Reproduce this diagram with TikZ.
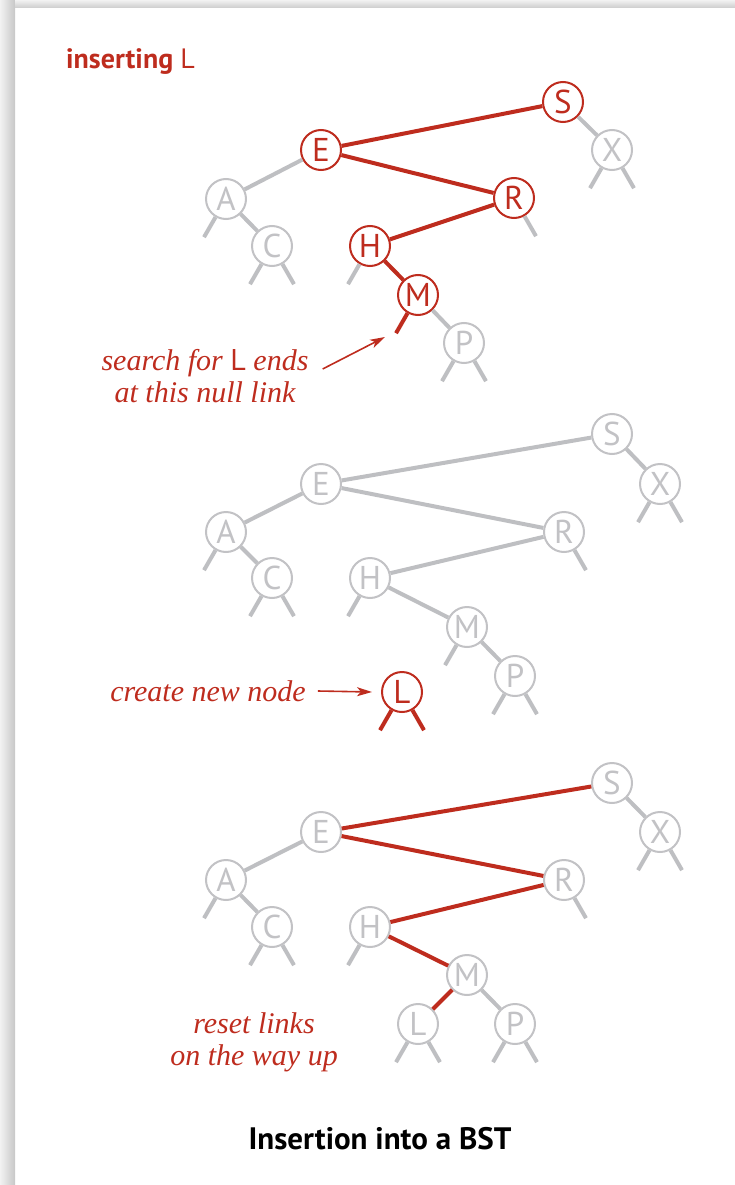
\documentclass[tikz,border=0pt]{standalone}
\usepackage{fontspec}
\newfontfamily\sansfont{PT Sans}
\newfontfamily\notefont{Liberation Serif}
\usetikzlibrary{arrows.meta}
\definecolor{bookred}{RGB}{190,44,30}
\definecolor{linkgray}{RGB}{190,191,194}
\definecolor{keygray}{RGB}{194,194,197}

\begin{document}
\begin{tikzpicture}[
  x=1pt, y=-1pt,
  gnode/.style={draw=keygray,text=keygray,fill=white,circle,line width=2pt,minimum size=40pt,inner sep=0pt,font=\sansfont\fontsize{33}{33}\selectfont},
  rnode/.style={gnode,draw=bookred,text=bookred},
  glink/.style={draw=linkgray,line width=4pt},
  rlink/.style={draw=bookred,line width=4pt},
  note/.style={text=bookred,inner sep=0pt,align=center,font=\notefont\itshape\fontsize{30}{32}\selectfont},
  heading/.style={inner sep=0pt,anchor=base,font=\sansfont\bfseries\fontsize{31}{31}\selectfont},
  rarrow/.style={draw=bookred,line width=1.6pt,-{Stealth[length=15pt,width=9pt,inset=4pt]}}
]
  \useasboundingbox (0,0) rectangle (735,1185);

  % frame shadow
  \shade[left color=black!5, right color=black!22] (0,0) rectangle (15,1185);
  \shade[top color=black!5, bottom color=black!20] (15,0) rectangle (735,8);

  % labels
  \node[heading,anchor=base west,text=bookred,font=\sansfont\bfseries\fontsize{28}{28}\selectfont] (insL) at (66,69) {inserting {\mdseries L}};
  \node[note] (search) at (205,376) {search for {\sansfont\upshape L} ends\\at this null link};
  \node[note] (create) at (208,691) {create new node};
  \node[note] (reset) at (254,1042) {reset links\\on the way up};
  \node[heading] (caption) at (380,1149) {Insertion into a BST};

  % search
  \node[rnode] (s1) at (563,102) {S};
  \node[gnode] (x1) at (612,150) {X};
  \node[rnode] (e1) at (321,150) {E};
  \node[gnode] (a1) at (226,199) {A};
  \node[gnode] (c1) at (272,246) {C};
  \node[rnode] (r1) at (514,198) {R};
  \node[rnode] (h1) at (370,246) {H};
  \node[rnode] (m1) at (418,295) {M};
  \node[gnode] (p1) at (464,343) {P};

  \draw[rlink] (s1) -- (e1);
  \draw[rlink] (e1) -- (r1);
  \draw[rlink] (r1) -- (h1);
  \draw[rlink] (h1) -- (m1);
  \draw[glink] (s1) -- (x1);
  \draw[glink] (e1) -- (a1);
  \draw[glink] (a1) -- (c1);
  \draw[glink] (m1) -- (p1);
  \draw[rlink] (m1.-120) -- ++(-11.5,20);
  \draw[glink] (x1.-120) -- ++(-11.5,20);
  \draw[glink] (x1.-60) -- ++(11.5,20);
  \draw[glink] (a1.-120) -- ++(-11.5,20);
  \draw[glink] (c1.-120) -- ++(-11.5,20);
  \draw[glink] (c1.-60) -- ++(11.5,20);
  \draw[glink] (r1.-60) -- ++(11.5,20);
  \draw[glink] (h1.-120) -- ++(-11.5,20);
  \draw[glink] (p1.-120) -- ++(-11.5,20);
  \draw[glink] (p1.-60) -- ++(11.5,20);

  \coordinate (nulltip) at (385,337);
  \draw[rarrow] ([xshift=14pt,yshift=7pt]search.east) -- (nulltip);

  % new node
  \node[gnode] (s2) at (612,434) {S};
  \node[gnode] (x2) at (660,484) {X};
  \node[gnode] (e2) at (321,484) {E};
  \node[gnode] (a2) at (226,532) {A};
  \node[gnode] (c2) at (272,578) {C};
  \node[gnode] (r2) at (564,532) {R};
  \node[gnode] (h2) at (370,578) {H};
  \node[gnode] (m2) at (467,627) {M};
  \node[gnode] (p2) at (515,676) {P};
  \node[rnode] (l2) at (402,692) {L};

  \draw[glink] (s2) -- (e2);
  \draw[glink] (e2) -- (r2);
  \draw[glink] (r2) -- (h2);
  \draw[glink] (h2) -- (m2);
  \draw[glink] (s2) -- (x2);
  \draw[glink] (e2) -- (a2);
  \draw[glink] (a2) -- (c2);
  \draw[glink] (m2) -- (p2);
  \draw[glink] (m2.-120) -- ++(-11.5,20);
  \draw[glink] (x2.-120) -- ++(-11.5,20);
  \draw[glink] (x2.-60) -- ++(11.5,20);
  \draw[glink] (a2.-120) -- ++(-11.5,20);
  \draw[glink] (c2.-120) -- ++(-11.5,20);
  \draw[glink] (c2.-60) -- ++(11.5,20);
  \draw[glink] (r2.-60) -- ++(11.5,20);
  \draw[glink] (h2.-120) -- ++(-11.5,20);
  \draw[glink] (p2.-120) -- ++(-11.5,20);
  \draw[glink] (p2.-60) -- ++(11.5,20);
  \draw[rlink] (l2.-120) -- ++(-11.5,20);
  \draw[rlink] (l2.-60) -- ++(11.5,20);

  \draw[rarrow] ([xshift=12pt]create.east) -- ([xshift=-9pt]l2.west);

  % reset links
  \node[gnode] (s3) at (612,783) {S};
  \node[gnode] (x3) at (660,832) {X};
  \node[gnode] (e3) at (321,832) {E};
  \node[gnode] (a3) at (226,880) {A};
  \node[gnode] (c3) at (272,927) {C};
  \node[gnode] (r3) at (564,880) {R};
  \node[gnode] (h3) at (370,927) {H};
  \node[gnode] (m3) at (467,975) {M};
  \node[gnode] (l3) at (418,1024) {L};
  \node[gnode] (p3) at (515,1024) {P};

  \draw[rlink] (s3) -- (e3);
  \draw[rlink] (e3) -- (r3);
  \draw[rlink] (r3) -- (h3);
  \draw[rlink] (h3) -- (m3);
  \draw[rlink] (m3) -- (l3);
  \draw[glink] (s3) -- (x3);
  \draw[glink] (e3) -- (a3);
  \draw[glink] (a3) -- (c3);
  \draw[glink] (m3) -- (p3);
  \draw[glink] (x3.-120) -- ++(-11.5,20);
  \draw[glink] (x3.-60) -- ++(11.5,20);
  \draw[glink] (a3.-120) -- ++(-11.5,20);
  \draw[glink] (c3.-120) -- ++(-11.5,20);
  \draw[glink] (c3.-60) -- ++(11.5,20);
  \draw[glink] (r3.-60) -- ++(11.5,20);
  \draw[glink] (h3.-120) -- ++(-11.5,20);
  \draw[glink] (l3.-120) -- ++(-11.5,20);
  \draw[glink] (l3.-60) -- ++(11.5,20);
  \draw[glink] (p3.-120) -- ++(-11.5,20);
  \draw[glink] (p3.-60) -- ++(11.5,20);
\end{tikzpicture}
\end{document}
